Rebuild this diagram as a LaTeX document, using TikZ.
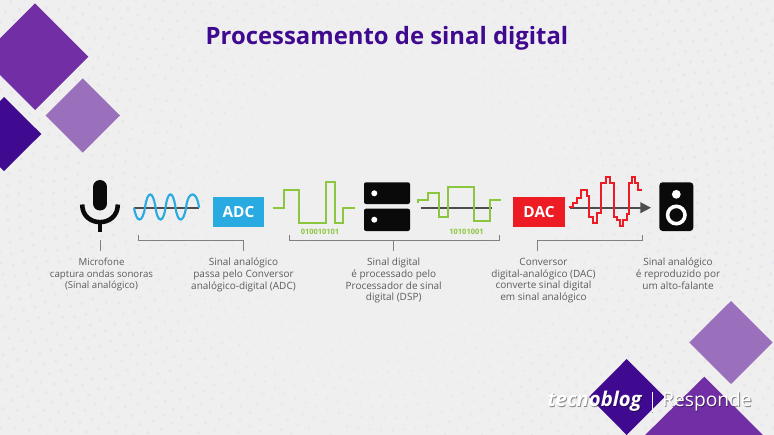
\documentclass[tikz,border=0pt]{standalone}
\usepackage{fontspec}
\setmainfont{Open Sans}
\usetikzlibrary{arrows.meta}
\definecolor{bgc}{HTML}{EFEFEF}
\definecolor{dotc}{HTML}{E8E8EC}
\definecolor{pmid}{HTML}{722EA5}
\definecolor{plight}{HTML}{9A70BC}
\definecolor{pdark}{HTML}{3F0A8F}
\definecolor{wblue}{HTML}{29ABE2}
\definecolor{wgreen}{HTML}{8CC63F}
\definecolor{wred}{HTML}{ED1C24}
\definecolor{txt}{HTML}{5C5C5C}
\definecolor{ink}{HTML}{0A0A0A}
\definecolor{lead}{HTML}{808080}
\definecolor{axisc}{HTML}{4D4D4D}
\tikzset{
  caption/.style={align=center,text=txt,font=\fontsize{7.5pt}{8.75pt}\selectfont,inner sep=0pt,anchor=north},
  leader/.style={draw=lead,line width=.75pt},
  badge/.style={minimum width=38.5pt,minimum height=22.5pt,inner sep=0pt,text=white,font=\fontsize{11.5pt}{13pt}\selectfont\bfseries},
  bits/.style={text=wgreen,inner sep=0pt,font=\fontsize{5.6pt}{6.5pt}\selectfont\bfseries},
  axisline/.style={draw=axisc,line width=1.2pt},
  wave/.style={line width=1.3pt,line join=miter},
  logoshadow/.style={text=black,opacity=.45,inner sep=0pt,anchor=west},
  logotext/.style={text=white,inner sep=0pt,anchor=west}
}
\begin{document}
\begin{tikzpicture}[x=.75pt,y=-.75pt]
\useasboundingbox (0,0) rectangle (774,435);
\clip (0,0) rectangle (774,435);
\fill[bgc] (0,0) rectangle (774,435);
% dotted background
\foreach \k in {8,...,42}{
  \pgfmathsetmacro{\R}{\k*11.5}
  \pgfmathtruncatemacro{\n}{round(2*pi*\R/11.5)}
  \pgfmathsetmacro{\rr}{min(1.9,.15+\R/190)}
  \foreach \i in {1,...,\n}{
    \pgfmathsetmacro{\ang}{\i/\n*360+\k*7}
    \pgfmathsetmacro{\px}{387+\R*cos(\ang)}
    \pgfmathsetmacro{\py}{200+\R*sin(\ang)}
    \pgfmathtruncatemacro{\vis}{(\px>-3)&&(\px<777)&&(\py>-3)&&(\py<438)}
    \ifnum\vis=1 \fill[dotc] (\px,\py) circle[radius=\rr]; \fi
  }
}
% corner diamonds
\fill[pmid] (35,3.3) -- (88.3,56.7) -- (35,110) -- (-18.3,56.7) -- cycle;
\fill[plight] (82.7,78.3) -- (120,115.5) -- (82.7,152.7) -- (45.5,115.5) -- cycle;
\fill[pdark] (4,97) -- (41.3,134) -- (4,171) -- (-33,134) -- cycle;
\fill[plight] (731,301) -- (772.7,342.5) -- (731,384) -- (689.3,342.5) -- cycle;
\fill[pdark] (626.7,359) -- (664.5,397) -- (626.7,435) -- (589,397) -- cycle;
\fill[pmid] (704.3,376.7) -- (770,442) -- (638,442) -- cycle;
% title
\node[inner sep=0pt,text=pdark,font=\fontsize{17.9pt}{20pt}\selectfont\bfseries] (title) at (387,38.8) {Processamento de sinal digital};
% microphone
\draw[ink,line width=10.5pt,line cap=round] (100,187) -- (100,203.5);
\draw[ink,line width=3.4pt] (82.2,204.5) .. controls (82.2,228) and (117.8,228) .. (117.8,204.5);
\draw[ink,line width=3.6pt] (100,221) -- (100,232);
% sine
\draw[axisline] (134,207.7) -- (199,207.7);
\draw[wblue,line width=1.6pt] (134,207.7)
 .. controls (136.8,223.5) and (142.2,223.5) .. (145,207.7)
 .. controls (147.5,190) and (153,190) .. (155.5,207.7)
 .. controls (157.8,223.5) and (163.2,223.5) .. (165.5,207.7)
 .. controls (167.8,190) and (173.2,190) .. (175.5,207.7)
 .. controls (177.8,223.5) and (183.5,223.5) .. (186,207.7)
 .. controls (188,190) and (197,190) .. (199,207.7);
% ADC
\node[badge,fill=wblue] (adc) at (238.5,212) {ADC};
% green wave 1
\draw[wgreen,wave] (272.7,207.7) -- (284,207.7) -- (284,190) -- (299,190) -- (299,223.3) -- (325.7,223.3) -- (325.7,182.3) -- (335,182.3) -- (335,223.3) -- (343.3,223.3) -- (343.3,207.7) -- (355,207.7);
\node[bits] (bitsa) at (320,232) {010010101};
% server
\fill[ink,rounded corners=1.5pt] (364,182.3) rectangle (410,204);
\fill[ink,rounded corners=1.5pt] (364,208.7) rectangle (410,231);
\fill[white] (374.3,193.3) circle[radius=3];
\fill[white] (374.3,219.7) circle[radius=3];
% green wave 2
\draw[axisline] (420.7,207.7) -- (491.7,207.7);
\begin{scope}[shift={(350,170)},x=.25pt,y=-.25pt]
\draw[wgreen,wave] (205,98) -- (205,90) -- (235,90) -- (235,70) -- (267,70) -- (267,140) -- (295,140) -- (295,50) -- (372,50) -- (372,152) -- (420,152) -- (420,90) -- (452,90);
\end{scope}
\node[bits] (bitsb) at (466.5,232) {10101001};
% DAC
\node[badge,fill=wred] (dac) at (539,211.7) {DAC};
% arrow and red wave
\coordinate (axs) at (570,207.7);
\coordinate (axe) at (651,207.7);
\draw[axisline,-{Triangle[length=8pt,width=8pt]}] (axs) -- (axe);
\begin{scope}[shift={(565,170)},x=.25pt,y=-.25pt]
\draw[wred,wave] (12,112) -- (25,112) -- (25,100) -- (37,100) -- (37,84) -- (48,84) -- (48,60) -- (65,60) -- (65,78) -- (73,78) -- (73,140) -- (85,140) -- (85,158) -- (95,158) -- (95,130) -- (108,130) -- (108,40) -- (122,40) -- (122,20) -- (135,20) -- (135,40) -- (147,40) -- (147,140) -- (155,140) -- (155,150) -- (165,150) -- (165,167) -- (175,167) -- (175,150) -- (185,150) -- (185,133) -- (192,133) -- (192,38) -- (200,38) -- (200,20) -- (210,20) -- (210,38) -- (220,38) -- (220,60) -- (232,60);
\end{scope}
% speaker
\fill[ink,rounded corners=2.5pt] (659.3,182.3) rectangle (693.3,231);
\fill[white] (676.3,194.3) circle[radius=4.4];
\draw[white,line width=2.7pt] (676.3,215) circle[radius=8.7];
% captions
\node[caption,font=\fontsize{7.25pt}{8.75pt}\selectfont] (capa) at (101.5,258) {Microfone\\captura ondas sonoras\\(Sinal analógico)};
\node[caption] (capb) at (243.5,258) {Sinal analógico\\passa pelo Conversor\\analógico-digital (ADC)};
\node[caption] (capc) at (393.7,258) {Sinal digital\\é processado pelo\\Processador de sinal\\digital (DSP)};
\node[caption] (capd) at (543.5,258) {Conversor\\digital-analógico (DAC)\\converte sinal digital\\em sinal analógico};
\node[caption] (cape) at (678,258) {Sinal analógico\\é reproduzido por\\um alto-falante};
% leaders
\coordinate (la) at (100,240); \coordinate (lae) at (100,251);
\draw[leader] (la) -- (lae);
\coordinate (b1l) at (138,235); \coordinate (b1r) at (243,251);
\draw[leader] (b1l) -- (138,240) -- (243,240) -- (b1r);
\coordinate (b2l) at (289,235); \coordinate (b2r) at (499,235);
\coordinate (b2s) at (393.7,251);
\draw[leader] (b2l) -- (289,240) -- (499,240) -- (b2r);
\draw[leader] (393.7,240) -- (b2s);
\coordinate (b3l) at (537,251); \coordinate (b3r) at (642.7,235);
\draw[leader] (b3l) -- (537,240) -- (642.7,240) -- (b3r);
% logo
\node[logoshadow,font=\fontsize{15.2pt}{17pt}\selectfont\bfseries\itshape] (logoas) at (547.8,402.2) {tecnoblog};
\node[logotext,font=\fontsize{15.2pt}{17pt}\selectfont\bfseries\itshape] (logoa) at (547,401.5) {tecnoblog};
\draw[black!45,line width=.8pt] (652.7,392.7) -- (652.7,412.7);
\draw[white,line width=.7pt] (652,392) -- (652,412);
\node[logoshadow,font=\fontsize{14.4pt}{16pt}\selectfont] (logobs) at (662.8,402.2) {Responde};
\node[logotext,font=\fontsize{14.4pt}{16pt}\selectfont] (logob) at (662,401.5) {Responde};
\end{tikzpicture}
\end{document}
